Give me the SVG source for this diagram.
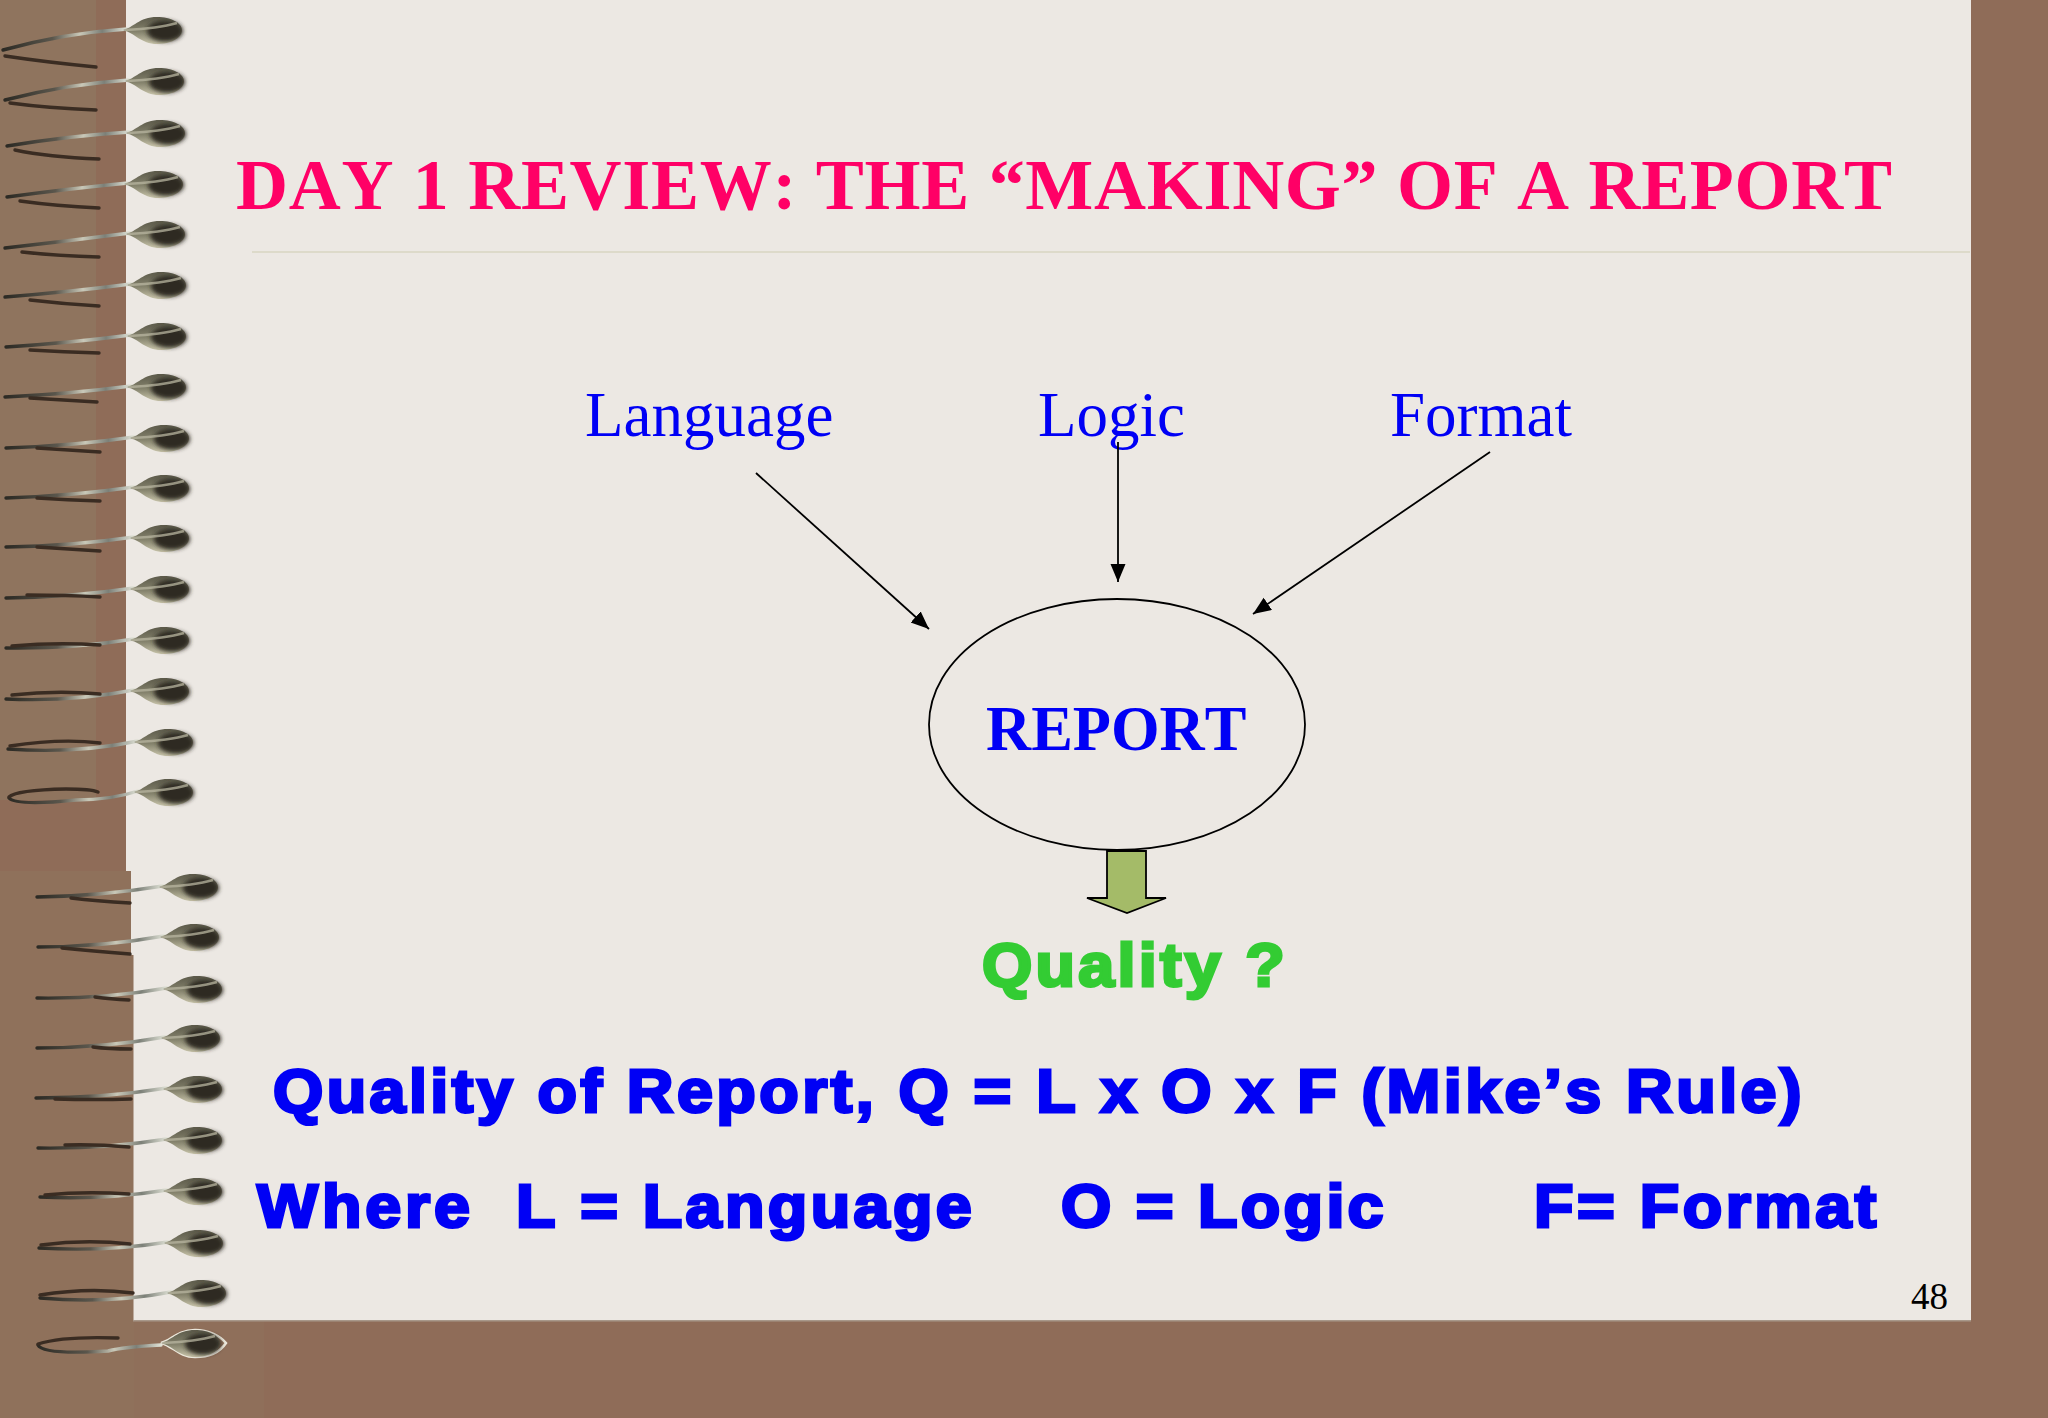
<svg xmlns="http://www.w3.org/2000/svg" width="2048" height="1418" viewBox="0 0 2048 1418">
<style>
.ser{font-family:"Liberation Serif","Times New Roman",serif;font-kerning:none}
.san{font-family:"Liberation Sans",Arial,sans-serif;font-weight:700;font-size:61px;stroke-width:3;stroke-linejoin:miter;letter-spacing:3.1px;font-kerning:none}
.blue{fill:#0000f5}
.lab{font-size:63px}
.up{fill:none;stroke:url(#wire);stroke-width:3.4;stroke-linecap:round}
.lo{fill:none;stroke:#3a2c22;stroke-width:3.4;stroke-linecap:round}
.conn{stroke:#000;stroke-width:1.8;fill:none;marker-end:url(#head)}
#rule-line{letter-spacing:3.24px}
</style>
<defs>
<marker id="head" markerUnits="userSpaceOnUse" markerWidth="20" markerHeight="16" refX="18" refY="7.5" orient="auto"><path d="M0,0L18,7.5L0,15z" fill="#000"/></marker>
<linearGradient id="wire" x1="0" y1="0" x2="1" y2="0"><stop offset="0" stop-color="#2c2a24"/><stop offset=".4" stop-color="#5a564c"/><stop offset=".62" stop-color="#c9c8b8"/><stop offset=".8" stop-color="#7c8078"/><stop offset="1" stop-color="#e0e2d6"/></linearGradient>
<linearGradient id="bead" x1="0" y1="0" x2="0" y2="1"><stop offset="0" stop-color="#5c5a4a"/><stop offset=".55" stop-color="#85836d"/><stop offset="1" stop-color="#c8c4aa"/></linearGradient>
<filter id="soft" x="-30%" y="-40%" width="160%" height="180%"><feGaussianBlur stdDeviation="2.2"/></filter>
<g id="blob">
<path d="M-32,0C-22,-2 -16,-13 2,-13C16,-13 27,-7 27,0C27,8 16,14 2,14C-14,14 -20,3 -32,0z" fill="url(#bead)"/>
<ellipse cx="10" cy="1" rx="18" ry="10.500" fill="#2f2c24" filter="url(#soft)"/>
<path d="M-30,0C-10,-1 8,-3 22,-7" fill="none" stroke="#b8b6a0" stroke-width="2.600" opacity=".75"/>
</g>
</defs>
<rect id="backdrop" width="2048" height="1418" fill="#8f6c58"/>
<rect x="0" y="0" width="96" height="800" fill="#8f745e"/>
<rect x="0" y="871" width="134" height="547" fill="#8f715b"/>
<rect x="134" y="1321" width="130" height="97" fill="#8f6f5a"/>
<path id="page" d="M126,0H1971V1321H133.500V955H131V871H126z" fill="#ece8e3"/>
<rect x="133" y="1320" width="1838" height="1.500" fill="#a8988a"/>
<line id="rule" x1="252" y1="252" x2="1970" y2="252" stroke="#d9d6c2" stroke-width="1.500"/>
<g id="spiral">
<g transform="translate(155,30)"><path class="up" d="M-28,-1Q-90,3 -152,20"/><path class="lo" d="M-150,26Q-110,32 -59,37"/><use href="#blob"/></g>
<g transform="translate(157,81)"><path class="up" d="M-28,-1Q-90,3 -152,19"/><path class="lo" d="M-147,22Q-110,27 -61,29"/><use href="#blob"/></g>
<g transform="translate(158,133)"><path class="up" d="M-28,-1Q-90,3 -151,13"/><path class="lo" d="M-143,17Q-110,24 -59,26"/><use href="#blob"/></g>
<g transform="translate(156,184)"><path class="up" d="M-28,-1Q-90,5 -149,13"/><path class="lo" d="M-136,17Q-100,22 -57,24"/><use href="#blob"/></g>
<g transform="translate(158,234)"><path class="up" d="M-28,-1Q-90,7 -153,14"/><path class="lo" d="M-136,18Q-100,22 -59,23"/><use href="#blob"/></g>
<g transform="translate(159,285)"><path class="up" d="M-28,-1Q-90,7 -154,12"/><path class="lo" d="M-129,15Q-95,19 -60,21"/><use href="#blob"/></g>
<g transform="translate(159,336)"><path class="up" d="M-28,-1Q-90,7 -153,11"/><path class="lo" d="M-129,14Q-95,16 -60,17"/><use href="#blob"/></g>
<g transform="translate(159,387)"><path class="up" d="M-28,-1Q-90,7 -154,10"/><path class="lo" d="M-129,11Q-95,13 -62,15"/><use href="#blob"/></g>
<g transform="translate(162,438)"><path class="up" d="M-28,-1Q-90,8 -156,10"/><path class="lo" d="M-125,10Q-95,12 -62,14"/><use href="#blob"/></g>
<g transform="translate(162,488)"><path class="up" d="M-28,-1Q-90,8 -156,10"/><path class="lo" d="M-125,10Q-95,12 -62,13"/><use href="#blob"/></g>
<g transform="translate(162,538)"><path class="up" d="M-28,-1Q-90,8 -156,9"/><path class="lo" d="M-125,9Q-95,11 -62,13"/><use href="#blob"/></g>
<g transform="translate(162,589)"><path class="up" d="M-28,-1Q-90,8 -156,9"/><path class="lo" d="M-135,6Q-95,6 -62,8"/><use href="#blob"/></g>
<g transform="translate(162,640)"><path class="up" d="M-28,-1Q-90,9 -156,8"/><path class="lo" d="M-150,6Q-105,2 -62,5"/><use href="#blob"/></g>
<g transform="translate(162,691)"><path class="up" d="M-28,-1Q-90,11 -156,8"/><path class="lo" d="M-150,4Q-105,-1 -62,3"/><use href="#blob"/></g>
<g transform="translate(166,742)"><path class="up" d="M-28,-1Q-90,12 -158,7"/><path class="lo" d="M-156,4Q-105,-4 -66,1"/><use href="#blob"/></g>
<g transform="translate(166,792)"><path class="up" d="M-28,-1Q-55,8 -90,8Q-150,14 -157,6"/><path class="lo" d="M-157,5Q-150,-2 -100,-3Q-75,-3 -68,0"/><use href="#blob"/></g>
<g transform="translate(191,887)"><path class="up" d="M-28,-1Q-90,9 -154,10"/><path class="lo" d="M-120,11Q-95,14 -61,16"/><use href="#blob"/></g>
<g transform="translate(192,937)"><path class="up" d="M-28,-1Q-90,10 -154,10"/><path class="lo" d="M-130,11Q-100,14 -62,17"/><use href="#blob"/></g>
<g transform="translate(195,989)"><path class="up" d="M-28,-1Q-90,10 -158,9"/><path class="lo" d="M-100,8Q-85,10 -66,11"/><use href="#blob"/></g>
<g transform="translate(193,1038)"><path class="up" d="M-28,-1Q-90,10 -156,10"/><path class="lo" d="M-100,9Q-85,11 -62,11"/><use href="#blob"/></g>
<g transform="translate(195,1089)"><path class="up" d="M-28,-1Q-90,9 -159,9"/><path class="lo" d="M-140,10Q-100,11 -64,10"/><use href="#blob"/></g>
<g transform="translate(195,1140)"><path class="up" d="M-28,-1Q-90,9 -157,8"/><path class="lo" d="M-130,5Q-100,4 -66,7"/><use href="#blob"/></g>
<g transform="translate(195,1191)"><path class="up" d="M-28,-1Q-90,9 -155,6"/><path class="lo" d="M-150,4Q-110,0 -66,3"/><use href="#blob"/></g>
<g transform="translate(196,1243)"><path class="up" d="M-28,-1Q-90,9 -157,5"/><path class="lo" d="M-155,2Q-110,-4 -66,1"/><use href="#blob"/></g>
<g transform="translate(199,1293)"><path class="up" d="M-28,-1Q-90,11 -159,5"/><path class="lo" d="M-159,2Q-110,-6 -66,0"/><use href="#blob"/></g>
<g transform="translate(193,1343)"><path class="up" d="M-32,2Q-70,4 -85,8Q-150,12 -155,2"/><path class="lo" d="M-155,1Q-130,-7 -75,-5"/><path d="M-32,0C-22,-2 -16,-13 2,-13C16,-13 27,-7 33,0C27,9 16,14 2,14C-14,14 -20,3 -32,0z" fill="none" stroke="#ece8dc" stroke-width="2.500"/><use href="#blob"/></g>
</g>
<text id="title" class="ser" x="236" y="209" font-size="72" font-weight="700" fill="#ff0066" letter-spacing=".7">DAY 1 REVIEW: THE “MAKING” OF A REPORT</text>
<g id="language"><text class="ser blue lab" x="585" y="436">Language</text></g>
<g id="logic"><text class="ser blue lab" x="1038" y="436">Logic</text></g>
<g id="format"><text class="ser blue lab" x="1390" y="436">Format</text></g>
<g id="report"><ellipse cx="1117" cy="724.500" rx="188" ry="125.500" fill="none" stroke="#000" stroke-width="1.800"/><text class="ser blue" x="986" y="750" font-size="62.500" font-weight="700">REPORT</text></g>
<g id="connectors">
<line class="conn" x1="756" y1="473" x2="929" y2="629"/>
<line class="conn" x1="1118" y1="442" x2="1118" y2="582"/>
<line class="conn" x1="1490" y1="452" x2="1253" y2="614"/>
</g>
<path id="down-arrow" d="M1107,851V898H1087L1127,913L1166,898H1146V851z" fill="#a4bb68" stroke="#000" stroke-width="1.800"/>
<g id="quality"><text class="san" transform="translate(0,985.500) scale(1.06,1)" x="926.400" fill="#33cc33" stroke="#33cc33">Quality ?</text></g>
<text id="rule-line" class="san blue" transform="translate(0,1111.500) scale(1.06,1)" x="257.500" stroke="#0000f5">Quality of Report, Q = L x O x F (Mike’s Rule)</text>
<text id="legend-line" class="san blue" transform="translate(0,1226.500) scale(1.06,1)" stroke="#0000f5"><tspan x="242.500" letter-spacing="3.600">Where</tspan> <tspan x="486.800" letter-spacing="3.200">L = Language</tspan> <tspan x="1000.900">O = Logic</tspan> <tspan x="1447.200" letter-spacing="3.300">F= Format</tspan></text>
<text id="page-number" class="ser" x="1911" y="1309" font-size="37" fill="#000">48</text>
</svg>
